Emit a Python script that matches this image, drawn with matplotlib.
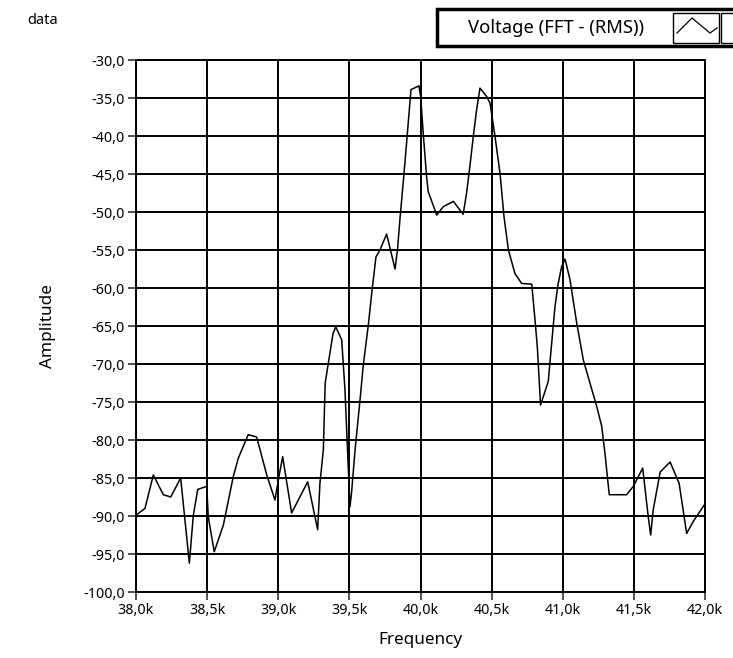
import matplotlib
matplotlib.use("Agg")
import matplotlib.pyplot as plt
from matplotlib.patches import Rectangle
from matplotlib.lines import Line2D
from matplotlib.ticker import FuncFormatter, MultipleLocator

## traced spectrum (Hz, dB)
freq = [38000, 38063, 38122, 38192, 38244, 38314, 38375, 38403, 38434, 38497,
        38508, 38550, 38614, 38684, 38719, 38789, 38848, 38919, 38977, 39005,
        39031, 39094, 39207, 39277, 39293, 39317, 39330, 39385, 39404, 39446,
        39469, 39504, 39516, 39540, 39575, 39598, 39633, 39657, 39687, 39715,
        39762, 39821, 39838, 39857, 39880, 39904, 39933, 39989, 40001, 40019,
        40043, 40054, 40114, 40160, 40231, 40300, 40324, 40347, 40371, 40394,
        40418, 40465, 40489, 40524, 40559, 40587, 40618, 40664, 40711, 40782,
        40805, 40821, 40844, 40898, 40922, 40945, 40968, 40992, 41016, 41051,
        41098, 41145, 41239, 41274, 41297, 41327, 41449, 41496, 41562, 41601,
        41618, 41636, 41685, 41755, 41818, 41871, 41918, 42000]
amp = [-89.9, -89.0, -84.6, -87.2, -87.5, -85.0, -96.2, -89.9, -86.5, -86.1,
       -90.1, -94.7, -91.2, -84.8, -82.4, -79.3, -79.6, -84.6, -87.9, -84.8,
       -82.2, -89.6, -85.5, -91.8, -85.7, -81.3, -72.5, -66.0, -65.1, -66.8,
       -73.4, -88.8, -86.8, -81.3, -74.7, -70.1, -64.9, -60.7, -55.9, -55.0,
       -52.9, -57.5, -55.0, -50.6, -45.8, -40.5, -33.9, -33.4, -34.8, -39.6,
       -45.4, -47.3, -50.4, -49.3, -48.6, -50.3, -47.5, -44.0, -40.1, -36.6,
       -33.7, -34.8, -35.7, -40.1, -44.9, -50.6, -55.0, -58.1, -59.4, -59.5,
       -64.2, -67.7, -75.4, -72.3, -67.3, -62.5, -59.4, -57.2, -56.2, -58.9,
       -64.6, -69.5, -75.6, -78.2, -81.8, -87.2, -87.2, -86.1, -83.7, -90.1,
       -92.5, -89.2, -84.2, -82.9, -85.7, -92.3, -90.7, -88.4]

series_name = "Voltage (FFT - (RMS))"

plt.rcParams['font.family'] = ['Noto Sans', 'DejaVu Sans']
plt.rcParams['font.size'] = 10.3

W, H = 733, 658
fig = plt.figure(figsize=(W / 100, H / 100), dpi=100)
ax = fig.add_axes([136 / W, 1 - 592 / H, (705 - 136) / W, (592 - 60) / H])

ax.plot(freq, amp, color="black", linewidth=1.1, zorder=3)

ax.set_xlim(38000, 42000)
ax.set_ylim(-100, -30)
ax.xaxis.set_major_locator(MultipleLocator(500))
ax.yaxis.set_major_locator(MultipleLocator(5))
ax.xaxis.set_major_formatter(FuncFormatter(lambda v, p: f"{v / 1000:.1f}k".replace(".", ",")))
ax.yaxis.set_major_formatter(FuncFormatter(lambda v, p: f"{v:.1f}".replace(".", ",")))
ax.grid(True, color="black", linewidth=1.4)
ax.set_axisbelow(True)
for s in ax.spines.values():
    s.set_linewidth(1.4)
ax.tick_params(direction="out", length=6, width=1.2, color="#333333", pad=2)

ax.set_xlabel("Frequency", fontsize=12.3)
ax.set_ylabel("Amplitude", fontsize=12.3)
ax.xaxis.set_label_coords(0.5, -(640 - 592) / (592 - 60), transform=ax.transAxes)
ax.yaxis.set_label_coords(-(136 - 48) / (705 - 136), 0.5, transform=ax.transAxes)
ax.xaxis.label.set_va("center")
ax.yaxis.label.set_va("center")

fig.text(27 / W, 1 - 20 / H, "data", ha="left", va="center", fontsize=10.5)

## legend box in the LabVIEW style
fig.add_artist(Rectangle((437 / W, 1 - 46 / H), 310 / W, 37 / H, transform=fig.transFigure,
                         facecolor="white", edgecolor="black", linewidth=2.5))
fig.add_artist(Rectangle((673 / W, 1 - 43 / H), 46 / W, 30 / H, transform=fig.transFigure,
                         facecolor="white", edgecolor="black", linewidth=1))
fig.add_artist(Rectangle((721 / W, 1 - 43 / H), 30 / W, 30 / H, transform=fig.transFigure,
                         facecolor="white", edgecolor="black", linewidth=1))
fig.text(556 / W, 1 - 28 / H, series_name, ha="center", va="center", fontsize=13.3)
icon_x = [677, 692, 710, 717]
icon_y = [33, 18, 33, 28]
fig.add_artist(Line2D([v / W for v in icon_x], [1 - v / H for v in icon_y],
                      transform=fig.transFigure, color="black", linewidth=0.9))

fig.savefig("out.png", dpi=100)
